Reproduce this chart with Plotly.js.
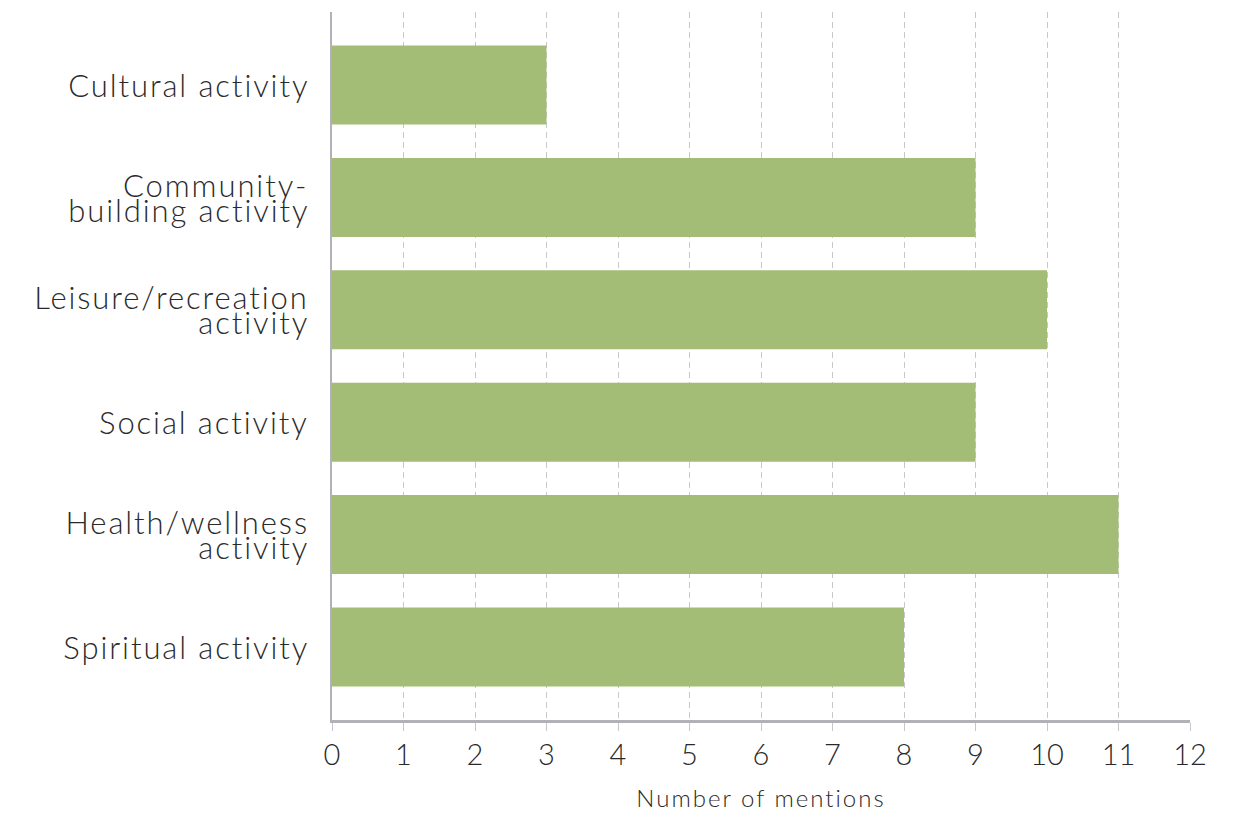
<!DOCTYPE html>
<html>
<head>
<meta charset="utf-8">
<script src="https://cdn.plot.ly/plotly-3.0.1.min.js"></script>
<style>
  html, body { margin: 0; padding: 0; background: #ffffff; }
  #chart { width: 1238px; height: 814px; }
  /* wider tracking for the category labels and the axis title */
  #chart .annotation-text { letter-spacing: 1.9px; }
  #chart .xtitle { letter-spacing: 2px; }
</style>
</head>
<body>
<div id="chart"></div>
<script>
// Activity categories, listed bottom to top
const categories = [
  "Spiritual activity",
  "Health/wellness activity",
  "Social activity",
  "Leisure/recreation activity",
  "Community-building activity",
  "Cultural activity"
];
// Category labels split into the lines drawn beside each bar
const labelLines = [
  ["Spiritual activity"],
  ["Health/wellness", "activity"],
  ["Social activity"],
  ["Leisure/recreation", "activity"],
  ["Community-", "building activity"],
  ["Cultural activity"]
];
const mentions = [8, 11, 9, 10, 9, 3];
const xTicks = [0, 1, 2, 3, 4, 5, 6, 7, 8, 9, 10, 11, 12];

const FONT = "Lato, 'Open Sans', sans-serif";
const TEXT = "#2a2a2a";
const LABEL_SIZE = 31;
const LINE_PITCH = 25;   // tight leading for wrapped category labels

const trace = {
  type: "bar",
  orientation: "h",
  y: categories,
  x: mentions,
  marker: { color: "#a3bd76", line: { width: 0 } },
  hoverinfo: "x+y"
};

// One annotation per label line, right-aligned against the value axis
const annotations = [];
categories.forEach((cat, i) => {
  const lines = labelLines[i];
  const n = lines.length;
  lines.forEach((txt, j) => {
    annotations.push({
      xref: "paper", yref: "y",
      x: 0, y: cat,
      xanchor: "right", yanchor: "middle",
      xshift: -21,
      yshift: ((n - 1) / 2 - j) * LINE_PITCH,
      text: txt,
      showarrow: false,
      align: "right",
      font: { size: LABEL_SIZE, family: FONT, color: TEXT, weight: 300 }
    });
  });
});

const layout = {
  width: 1238,
  height: 814,
  margin: { l: 332, r: 48, t: 12, b: 94, pad: 0 },
  paper_bgcolor: "#ffffff",
  plot_bgcolor: "#ffffff",
  showlegend: false,
  bargap: 0.297,
  font: { family: FONT, color: TEXT },
  annotations: annotations,
  xaxis: {
    range: [0, 12],
    tickvals: xTicks,
    ticktext: xTicks.map(String),
    tickfont: { size: 29, family: FONT, color: TEXT, weight: 300 },
    ticks: "outside",
    ticklen: 8,
    tickwidth: 1,
    tickcolor: "#c8c8cc",
    showgrid: true,
    gridcolor: "#c8c8cc",
    gridwidth: 1,
    griddash: "6px,4px",
    showline: true,
    linecolor: "#b2b1b7",
    linewidth: 2.5,
    zeroline: false,
    fixedrange: true,
    title: {
      text: "Number of mentions",
      font: { size: 24, family: FONT, color: TEXT, weight: 300 },
      standoff: 20
    }
  },
  yaxis: {
    type: "category",
    categoryorder: "array",
    categoryarray: categories,
    range: [-0.65, 5.65],
    showticklabels: false,
    ticks: "",
    showgrid: false,
    showline: true,
    linecolor: "#b2b1b7",
    linewidth: 2.5,
    zeroline: false,
    fixedrange: true
  }
};

Plotly.newPlot("chart", [trace], layout, { displayModeBar: false, staticPlot: true });
</script>
</body>
</html>
